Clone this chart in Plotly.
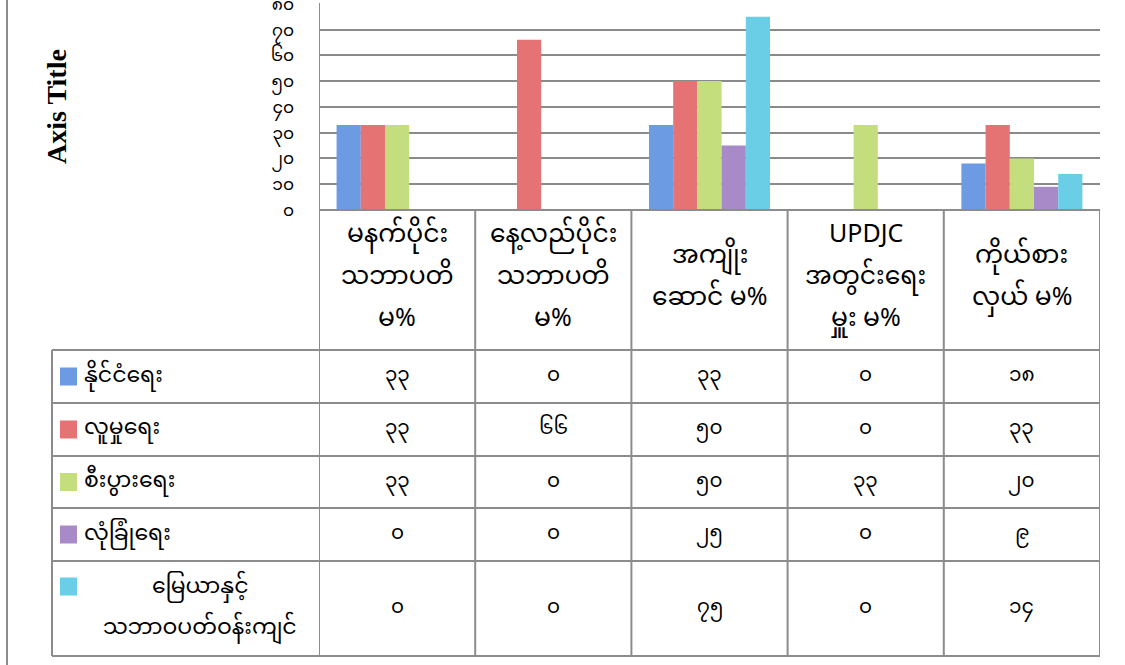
import plotly.graph_objects as go

# ---------------- data ----------------
categories = [
    "မနက်ပိုင်း\nသဘာပတိ\nမ%",
    "နေ့လည်ပိုင်း\nသဘာပတိ\nမ%",
    "အကျိုး\nဆောင် မ%",
    "UPDJC\nအတွင်းရေး\nမှူး မ%",
    "ကိုယ်စား\nလှယ် မ%",
]
series_names = [
    "နိုင်ငံရေး",
    "လူမှုရေး",
    "စီးပွားရေး",
    "လုံခြုံရေး",
    "မြေယာနှင့်\nသဘာဝပတ်ဝန်းကျင်",
]
politics = [33, 0, 33, 0, 18]
social = [33, 66, 50, 0, 33]
economic = [33, 0, 50, 33, 20]
security = [0, 0, 25, 0, 9]
land_env = [0, 0, 75, 0, 14]
series_values = [politics, social, economic, security, land_env]
colors = ["#6C9BE3", "#E57373", "#C4DE7E", "#A98AC9", "#6ACFE6"]
tick_vals = [0, 10, 20, 30, 40, 50, 60, 70, 80]
tick_text = ["၀", "၁၀", "၂၀", "၃၀", "၄၀", "၅၀", "၆၀", "၇၀", "၈၀"]
axis_title = "Axis Title"

MY_DIGITS = str.maketrans("0123456789", "၀၁၂၃၄၅၆၇၈၉")
def my_num(v):
    return str(v).translate(MY_DIGITS)

# ---------------- layout geometry (pixels) ----------------
W, H = 1125, 665
L, R, T, B = 319, 1100, 3, 210
def px(X):
    return (X - L) / (R - L)
def py(Y):
    return (B - Y) / (B - T)

FONT = "Noto Sans Myanmar, Padauk, Myanmar Text, Noto Sans, sans-serif"
LINE = "#8C8C8C"

fig = go.Figure()
xidx = list(range(len(categories)))
for name, vals, col in zip(series_names, series_values, colors):
    fig.add_trace(go.Bar(x=xidx, y=vals, name=name.replace("\n", " "),
                         marker=dict(color=col, line=dict(width=0)),
                         showlegend=False))

shapes = []
annotations = []

# outer chart frame (left)
shapes.append(dict(type="line", xref="paper", yref="paper",
                   x0=px(7), x1=px(7), y0=py(0), y1=py(H),
                   line=dict(color="#8C8C8C", width=2)))

# table geometry
header_top = 210
row_edges = [350, 403, 456, 508, 561, 656]
label_left = 52

# vertical lines at category boundaries
for i in range(len(categories) + 1):
    y_top = T if i == 0 else header_top
    shapes.append(dict(type="line", xref="x", yref="paper",
                       x0=i - 0.5, x1=i - 0.5, y0=py(y_top), y1=py(row_edges[-1]),
                       line=dict(color=LINE, width=2)))
# left border of label column
shapes.append(dict(type="line", xref="paper", yref="paper",
                   x0=px(label_left), x1=px(label_left), y0=py(row_edges[0]), y1=py(row_edges[-1]),
                   line=dict(color=LINE, width=2)))
# header top line
shapes.append(dict(type="line", xref="paper", yref="paper",
                   x0=0, x1=1, y0=py(header_top), y1=py(header_top),
                   line=dict(color=LINE, width=2)))
# row lines
for yy in row_edges:
    shapes.append(dict(type="line", xref="paper", yref="paper",
                       x0=px(label_left), x1=1, y0=py(yy), y1=py(yy),
                       line=dict(color=LINE, width=2)))

# header labels
line_gap = 42
header_center = 278
for i, cat in enumerate(categories):
    lines = cat.split("\n")
    n = len(lines)
    for k, ln in enumerate(lines):
        yc = header_center + (k - (n - 1) / 2) * line_gap
        annotations.append(dict(xref="x", yref="paper", x=i, y=py(yc),
                                text=ln, showarrow=False, xanchor="center", yanchor="middle",
                                font=dict(family=FONT, size=25, color="black")))

# rows: legend keys, labels, values
for r, (name, vals, col) in enumerate(zip(series_names, series_values, colors)):
    y0, y1 = row_edges[r], row_edges[r + 1]
    yc = (y0 + y1) / 2
    lines = name.split("\n")
    if len(lines) == 1:
        key_c = yc
        annotations.append(dict(xref="paper", yref="paper", x=px(82), y=py(yc),
                                text=lines[0], showarrow=False, xanchor="left", yanchor="middle",
                                font=dict(family=FONT, size=22, color="black")))
    else:
        key_c = yc - 22
        for k, ln in enumerate(lines):
            annotations.append(dict(xref="paper", yref="paper", x=px(200),
                                    y=py(yc + (k - 0.5) * 40),
                                    text=ln, showarrow=False, xanchor="center", yanchor="middle",
                                    font=dict(family=FONT, size=22, color="black")))
    shapes.append(dict(type="rect", xref="paper", yref="paper",
                       x0=px(60), x1=px(77), y0=py(key_c - 9), y1=py(key_c + 9),
                       fillcolor=col, line=dict(width=0)))
    for i, v in enumerate(vals):
        annotations.append(dict(xref="x", yref="paper", x=i, y=py(yc),
                                text=my_num(v), showarrow=False, xanchor="center", yanchor="middle",
                                font=dict(family=FONT, size=20, color="black")))

# axis title
annotations.append(dict(xref="paper", yref="paper", x=px(56), y=py(107),
                        text="<b>" + axis_title + "</b>", textangle=-90, showarrow=False,
                        xanchor="center", yanchor="middle",
                        font=dict(family="Liberation Serif, Times New Roman, serif", size=28, color="black")))

fig.update_layout(
    width=W, height=H,
    margin=dict(l=L, r=W - R, t=T, b=H - B, autoexpand=False),
    paper_bgcolor="white", plot_bgcolor="white",
    barmode="group", bargap=0.225, bargroupgap=0,
    shapes=shapes, annotations=annotations,
    xaxis=dict(range=[-0.5, len(categories) - 0.5], showticklabels=False, showgrid=False,
               zeroline=False, showline=False, fixedrange=True),
    yaxis=dict(range=[0, 80.3], tickvals=tick_vals, ticktext=tick_text,
               showgrid=True, gridcolor="#8A8A8A", gridwidth=2,
               zeroline=False, showline=False, ticks="",
               ticklabelstandoff=24, ticklabeloverflow="allow",
               tickfont=dict(family=FONT, size=17, color="black"),
               automargin=False, fixedrange=True),
)

fig.write_html("out.html", config={"displayModeBar": False},
               post_script="document.body.style.margin='0';document.body.style.overflow='hidden';")
